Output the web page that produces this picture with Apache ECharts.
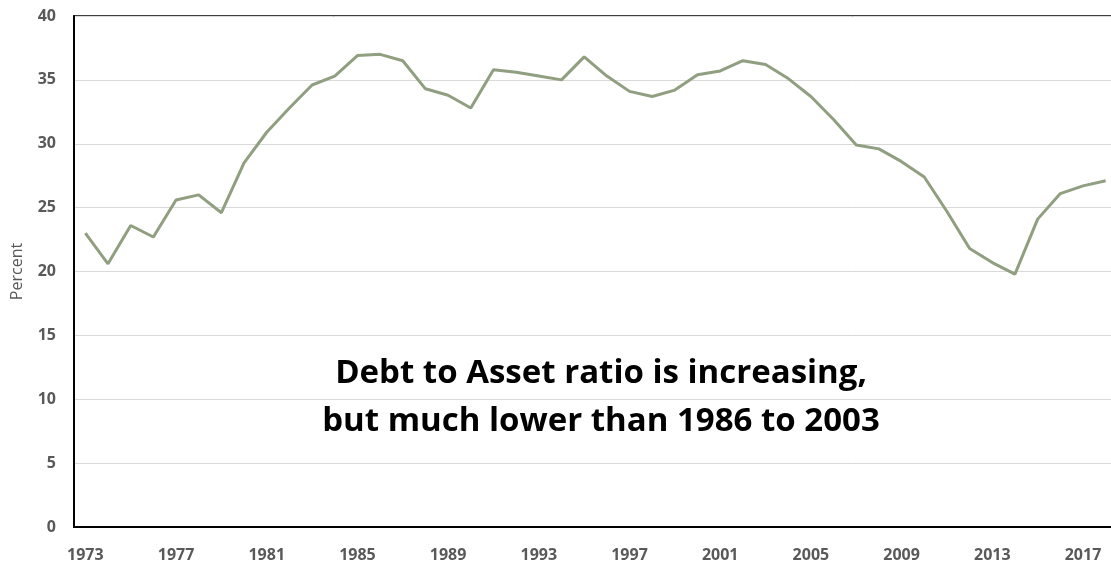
<!DOCTYPE html>
<html>
<head>
<meta charset="utf-8">
<script src="https://cdn.jsdelivr.net/npm/echarts@6/dist/echarts.min.js"></script>
<style>
  html, body { margin: 0; padding: 0; background: #fff; }
  #chart { width: 1111px; height: 565px; }
</style>
</head>
<body>
<div id="chart"></div>
<script>
// Years 1973–2018
const years = [];
for (let y = 1973; y <= 2018; y++) years.push(String(y));

// Debt to asset ratio, percent
const debtToAsset = [
  23.0, 20.6, 23.6, 22.7, 25.6, 26.0, 24.6, 28.5, 30.9, 32.8,
  34.6, 35.3, 36.9, 37.0, 36.5, 34.3, 33.8, 32.8, 35.8, 35.6,
  35.3, 35.0, 36.8, 35.3, 34.1, 33.7, 34.2, 35.4, 35.7, 36.5,
  36.2, 35.1, 33.7, 31.9, 29.9, 29.6, 28.6, 27.4, 24.7, 21.8,
  20.7, 19.8, 24.1, 26.1, 26.7, 27.1
];

const yTicks = { min: 0, max: 40, interval: 5 };
const noteLines = ['Debt to Asset ratio is increasing,', 'but much lower than 1986 to 2003'];

const chart = echarts.init(document.getElementById('chart'));
chart.setOption({
  animation: false,
  title: {
    text: noteLines.join('\n'),
    left: 596,
    top: 345,
    textAlign: 'center',
    textStyle: {
      fontFamily: 'Open Sans',
      fontWeight: 'bold',
      fontSize: 33,
      lineHeight: 48,
      color: '#000'
    }
  },
  // plot area runs slightly past the right edge of the canvas
  grid: {
    left: 74,
    width: 1043,
    top: 16,
    bottom: 38,
    show: true,
    borderColor: '#000',
    borderWidth: 1.5,
    containLabel: false,
    outerBoundsMode: 'none'
  },
  xAxis: {
    type: 'category',
    data: years,
    boundaryGap: true,
    axisLine: { show: true, lineStyle: { color: '#000', width: 2 } },
    axisTick: { show: false },
    axisLabel: {
      interval: 3,
      color: '#595959',
      fontFamily: 'Open Sans',
      fontWeight: 'bold',
      fontSize: 16,
      margin: 20
    },
    splitLine: { show: false }
  },
  yAxis: {
    type: 'value',
    min: yTicks.min,
    max: yTicks.max,
    interval: yTicks.interval,
    name: 'Percent',
    nameLocation: 'middle',
    nameGap: 49,
    nameTextStyle: {
      fontFamily: 'Open Sans',
      fontSize: 16,
      color: '#595959'
    },
    axisLine: { show: true, lineStyle: { color: '#000', width: 2 } },
    axisTick: { show: false },
    axisLabel: {
      color: '#595959',
      fontFamily: 'Open Sans',
      fontWeight: 'bold',
      fontSize: 16,
      margin: 18
    },
    splitLine: { show: true, lineStyle: { color: '#d9d9d9', width: 1 } }
  },
  series: [{
    type: 'line',
    data: debtToAsset,
    symbol: 'none',
    lineStyle: { color: '#8f9f80', width: 3 },
    itemStyle: { color: '#8f9f80' }
  }]
});
</script>
</body>
</html>
